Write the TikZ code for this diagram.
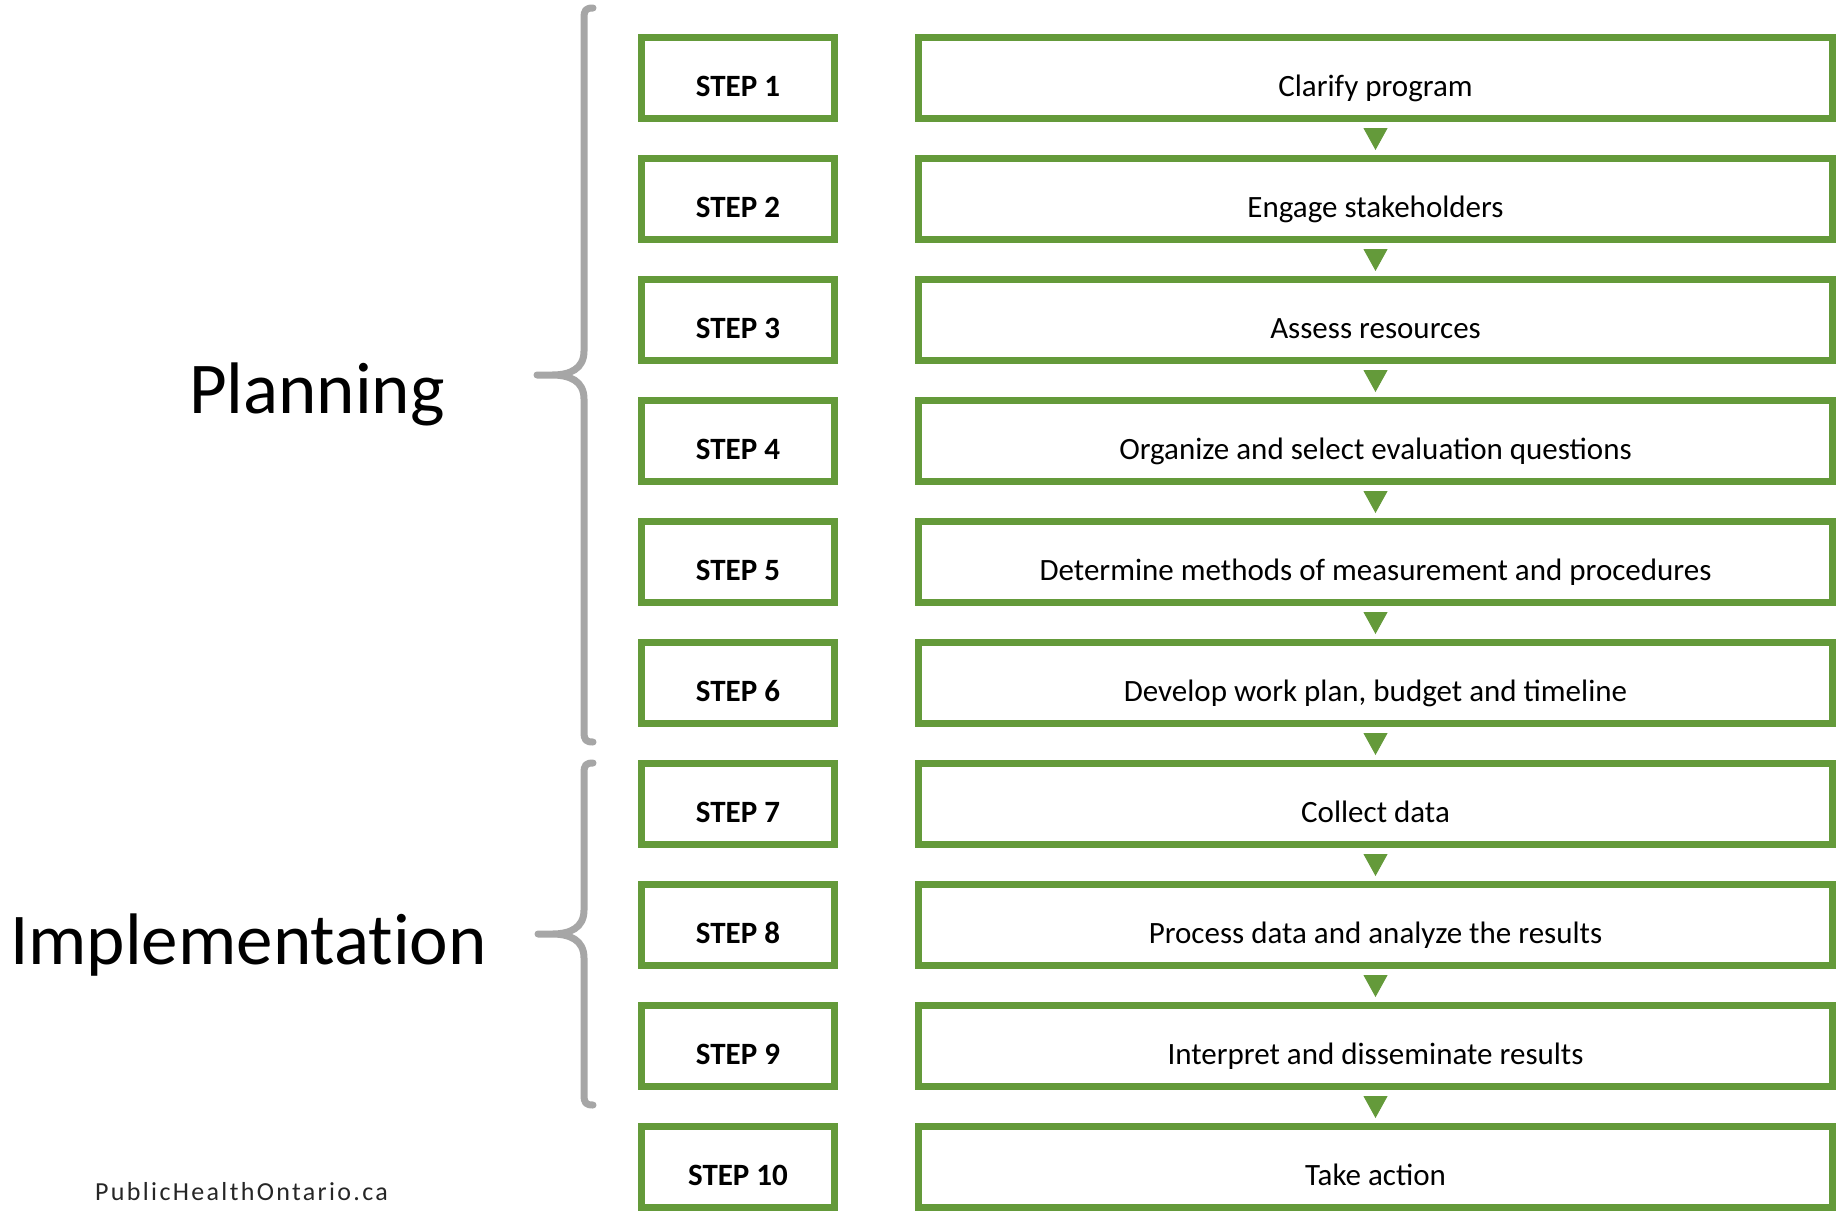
\documentclass[tikz,border=0pt]{standalone}
\usepackage{fontspec}
\setmainfont{Carlito}
\newfontfamily\footerfont[LetterSpace=9]{Carlito}
\newfontfamily\phasefont[Ligatures=NoCommon]{Carlito}
\usetikzlibrary{arrows.meta}
\definecolor{stepgreen}{RGB}{100,154,58}
\definecolor{bracegray}{RGB}{166,166,166}
\begin{document}
\begin{tikzpicture}[x=1pt,y=-1pt,
  stepbox/.style={draw=stepgreen, fill=white, line width=7pt, minimum width=193pt,
    minimum height=81pt, inner sep=0pt, text height=40pt, text depth=4pt,
    font=\fontsize{31}{36}\selectfont\bfseries},
  taskbox/.style={draw=stepgreen, fill=white, line width=7pt, minimum width=914pt,
    minimum height=81pt, inner sep=0pt, text height=40pt, text depth=4pt,
    font=\fontsize{31}{36}\selectfont},
  flow/.style={stepgreen, line width=1pt, shorten <=6pt, shorten >=5pt,
    -{Triangle[length=22pt,width=24pt]}},
  brace/.style={bracegray, line width=7pt, line cap=round, line join=round},
  phase/.style={font=\phasefont\fontsize{73}{80}\selectfont, anchor=base west, inner sep=0pt}]

\useasboundingbox[fill=white] (0,0) rectangle (1838,1211);

% step column and task column
\foreach \i/\task in {1/Clarify program,
                      2/Engage stakeholders,
                      3/Assess resources,
                      4/Organize and select evaluation questions,
                      5/Determine methods of measurement and procedures,
                      6/{Develop work plan, budget and timeline},
                      7/Collect data,
                      8/Process data and analyze the results,
                      9/Interpret and disseminate results,
                      10/Take action}{
  \node[stepbox] (s\i) at (738, {78+(\i-1)*121}) {STEP \i};
  \node[taskbox] (t\i) at (1375.5, {78+(\i-1)*121}) {\task};
}

% arrows between consecutive tasks
\foreach \i [evaluate=\i as \j using int(\i+1)] in {1,...,9}{
  \draw[flow] (t\i.south) -- (t\j.north);
}

% phase braces
\draw[brace] (593,8) .. controls (586,8) and (584,10) .. (584,18)
  -- (584,351) .. controls (584,369) and (570,375) .. (552,375) -- (537,375)
  -- (552,375) .. controls (570,375) and (584,381) .. (584,399)
  -- (584,732) .. controls (584,740) and (586,742) .. (593,742);
\draw[brace] (593,763) .. controls (586,763) and (584,765) .. (584,773)
  -- (584,910) .. controls (584,928) and (570,934) .. (552,934) -- (538,934)
  -- (552,934) .. controls (570,934) and (584,940) .. (584,958)
  -- (584,1095) .. controls (584,1103) and (586,1105) .. (593,1105);

% phase labels
\node[phase] (planning) at (189,413) {Planning};
\node[phase] (implementation) at (10,964) {Implementation};

% footer
\node[anchor=base west, inner sep=0pt, text=black!85,
  font=\footerfont\fontsize{26}{30}\selectfont] (site) at (95,1200) {PublicHealthOntario.ca};
\end{tikzpicture}
\end{document}
